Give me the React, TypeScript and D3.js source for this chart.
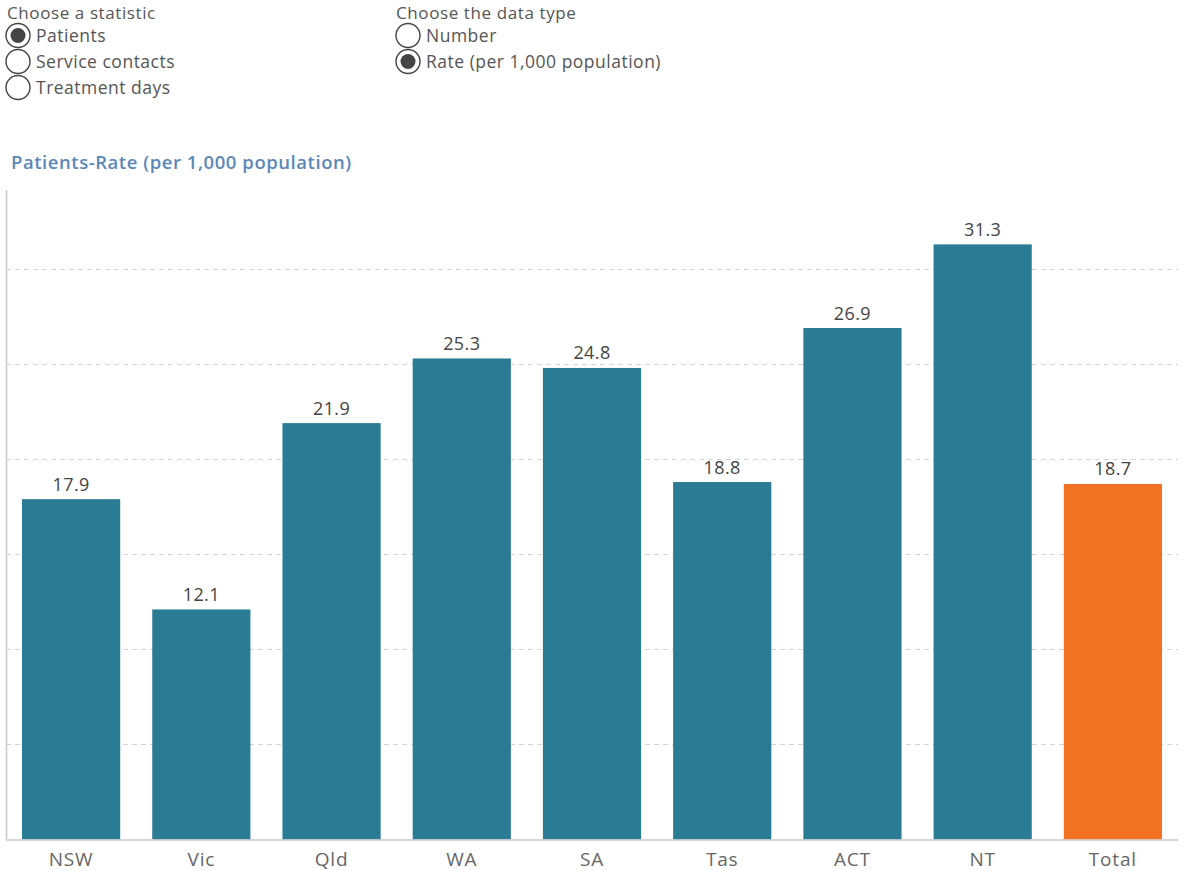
import React from "react";
import * as d3 from "d3";

const categories = ["NSW", "Vic", "Qld", "WA", "SA", "Tas", "ACT", "NT", "Total"];
const values = [17.9, 12.1, 21.9, 25.3, 24.8, 18.8, 26.9, 31.3, 18.7];
const gridTicks = [5, 10, 15, 20, 25, 30];
const statisticOptions = ["Patients", "Service contacts", "Treatment days"];
const dataTypeOptions = ["Number", "Rate (per 1,000 population)"];
const selectedStatistic = "Patients";
const selectedDataType = "Rate (per 1,000 population)";

const W = 1182;
const H = 871;
const FONT = "'Open Sans', 'DejaVu Sans', sans-serif";
const TEXT = "#555";

function Radio({ x, y, label, checked }: { x: number; y: number; label: string; checked: boolean }) {
  return (
    <g>
      <circle cx={x} cy={y} r={12} fill="#fff" stroke="#444" strokeWidth={1.4} />
      {checked && <circle cx={x} cy={y} r={7.5} fill="#444" />}
      <text x={x + 18} y={y + 6} fontSize={17.5} letterSpacing={0.5} fill={TEXT} fontFamily={FONT}>
        {label}
      </text>
    </g>
  );
}

export default function App() {
  const x = d3
    .scaleBand<string>()
    .domain(categories)
    .range([6, 1178])
    .paddingInner(0.246)
    .paddingOuter(0.123);
  const y = d3.scaleLinear().domain([0, 34.16]).range([839.5, 190]);

  return (
    <svg
      width={W}
      height={H}
      style={{ position: "absolute", left: 0, top: 0, background: "#fff" }}
      fontFamily={FONT}
    >
      {/* parameter controls */}
      <text x={7} y={18.5} fontSize={17} letterSpacing={0.6} fill={TEXT}>Choose a statistic</text>
      {statisticOptions.map((s, i) => (
        <Radio key={s} x={18} y={35.5 + i * 26} label={s} checked={s === selectedStatistic} />
      ))}
      <text x={396} y={18.5} fontSize={17} letterSpacing={0.6} fill={TEXT}>Choose the data type</text>
      {dataTypeOptions.map((s, i) => (
        <Radio key={s} x={408} y={35.5 + i * 26} label={s} checked={s === selectedDataType} />
      ))}

      {/* chart title */}
      <text x={11} y={169} fontSize={18.5} fontWeight={600} letterSpacing={0.55} fill="#5b88b8">
        {`${selectedStatistic}-${selectedDataType}`}
      </text>

      {/* gridlines */}
      {gridTicks.map((t) => (
        <line
          key={t}
          x1={6}
          x2={1178}
          y1={Math.round(y(t)) + 0.5}
          y2={Math.round(y(t)) + 0.5}
          stroke="#d4d4d4"
          strokeWidth={1}
          strokeDasharray="5,4"
        />
      ))}

      {/* bars */}
      {categories.map((c, i) => (
        <rect
          key={c}
          x={x(c)}
          y={y(values[i])}
          width={x.bandwidth()}
          height={y(0) - y(values[i])}
          fill={c === "Total" ? "#f37123" : "#2a7c95"}
        />
      ))}

      {/* value labels */}
      {categories.map((c, i) => (
        <text
          key={c}
          x={(x(c) ?? 0) + x.bandwidth() / 2}
          y={y(values[i]) - 8.5}
          textAnchor="middle"
          fontSize={18}
          letterSpacing={0.4}
          fill="#444"
        >
          {values[i].toFixed(1)}
        </text>
      ))}

      {/* axes */}
      <line x1={6.5} x2={6.5} y1={190} y2={840} stroke="#c8c8c8" strokeWidth={1.5} />
      <line x1={6} x2={1178} y1={840} y2={840} stroke="#c8c8c8" strokeWidth={1.5} />

      {/* category labels */}
      {categories.map((c) => (
        <text
          key={c}
          x={(x(c) ?? 0) + x.bandwidth() / 2}
          y={866}
          textAnchor="middle"
          fontSize={19}
          letterSpacing={0.8}
          fill="#666"
        >
          {c}
        </text>
      ))}
    </svg>
  );
}
